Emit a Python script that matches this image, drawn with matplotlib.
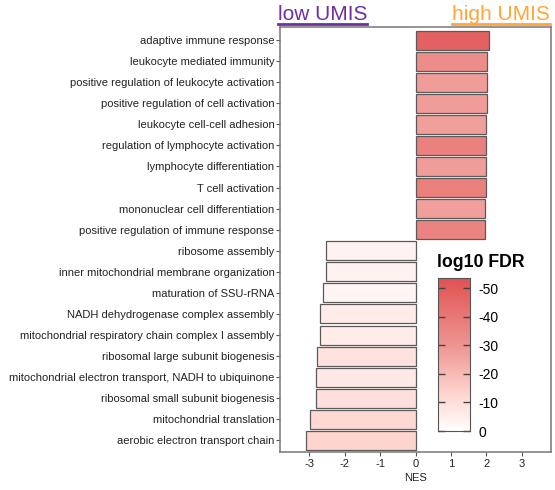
import matplotlib
matplotlib.use("Agg")
import matplotlib.pyplot as plt
import numpy as np
from matplotlib.colors import LinearSegmentedColormap, Normalize
from matplotlib.lines import Line2D

plt.rcParams['font.family'] = ['Liberation Sans', 'DejaVu Sans']
plt.rcParams['axes.unicode_minus'] = False

terms = ['adaptive immune response',
         'leukocyte mediated immunity',
         'positive regulation of leukocyte activation',
         'positive regulation of cell activation',
         'leukocyte cell-cell adhesion',
         'regulation of lymphocyte activation',
         'lymphocyte differentiation',
         'T cell activation',
         'mononuclear cell differentiation',
         'positive regulation of immune response',
         'ribosome assembly',
         'inner mitochondrial membrane organization',
         'maturation of SSU-rRNA',
         'NADH dehydrogenase complex assembly',
         'mitochondrial respiratory chain complex I assembly',
         'ribosomal large subunit biogenesis',
         'mitochondrial electron transport, NADH to ubiquinone',
         'ribosomal small subunit biogenesis',
         'mitochondrial translation',
         'aerobic electron transport chain']
nes = [2.09, 2.03, 2.02, 2.01, 2.00, 1.99, 1.99, 1.98, 1.97, 1.97,
       -2.52, -2.54, -2.62, -2.69, -2.69, -2.78, -2.80, -2.80, -2.98, -3.10]
log_fdr = [-48, -33, -28, -28, -27, -37, -28, -38, -27, -36,
           -4, -4, -3, -6, -6, -9, -7, -10, -12, -13]
cbar_ticks = [0, -10, -20, -30, -40, -50]

# red at the most negative end, white at 0
cmap = LinearSegmentedColormap.from_list(
    'fdr', [(0.0, '#e05252'), (0.48, '#f09c98'), (0.76, '#ffd5d0'), (1.0, '#ffffff')])
norm = Normalize(vmin=-53.5, vmax=0)

fig = plt.figure(figsize=(5.55, 4.9), dpi=100)
ax = fig.add_axes([0.5045, 0.0776, 0.4883, 0.8673])

ypos = np.arange(len(terms))
ax.barh(ypos, nes, height=0.9, color=cmap(norm(np.array(log_fdr))),
        edgecolor='#5a5a5a', linewidth=0.9)
ax.set_ylim(len(terms) - 0.45, -0.62)
ax.set_xlim(-3.83, 3.83)
ax.set_yticks(ypos)
ax.set_yticklabels(terms, fontsize=8, color='#222222')
ax.set_xticks([-3, -2, -1, 0, 1, 2, 3])
ax.tick_params(axis='x', labelsize=8, length=3, color='#555555', pad=2, labelcolor='#222222')
ax.tick_params(axis='y', length=3, color='#555555', pad=1)
ax.set_xlabel('NES', fontsize=8, labelpad=3, color='#222222')
for s in ax.spines.values():
    s.set_color('#777777')
    s.set_linewidth(1.1)

# colour key
cax = fig.add_axes([0.789, 0.1204, 0.0577, 0.3122])
grad = np.linspace(0, -53.5, 256).reshape(-1, 1)
cax.imshow(grad, aspect='auto', cmap=cmap, norm=norm, extent=[0, 1, 0, -53.5], origin='lower')
cax.set_ylim(0, -53.5)
cax.set_xlim(0, 1)
cax.set_xticks([])
cax.yaxis.tick_right()
cax.set_yticks(cbar_ticks)
cax.set_yticklabels([str(t) for t in cbar_ticks])
cax.tick_params(axis='y', direction='in', right=True, left=True, length=5,
                width=1, color='#444444', labelsize=10, pad=6)
for s in cax.spines.values():
    s.set_color('#555555')
    s.set_linewidth(0.8)
fig.text(0.787, 0.447, 'log10 FDR', fontsize=12.8, fontweight='bold', ha='left', va='bottom')

# group headers with underline
fig.canvas.draw()
r = fig.canvas.get_renderer()
for label, xpos, ha, col in [('low UMIS', 0.5, 'left', '#7030a0'),
                             ('high UMIS', 0.991, 'right', '#ffa53a')]:
    t = fig.text(xpos, 0.96, label, fontsize=15, color=col, ha=ha, va='baseline')
    bb = t.get_window_extent(r).transformed(fig.transFigure.inverted())
    fig.add_artist(Line2D([bb.x0, bb.x1], [0.952, 0.952], color=col, lw=2,
                          transform=fig.transFigure))

fig.savefig('out.png', dpi=100)
